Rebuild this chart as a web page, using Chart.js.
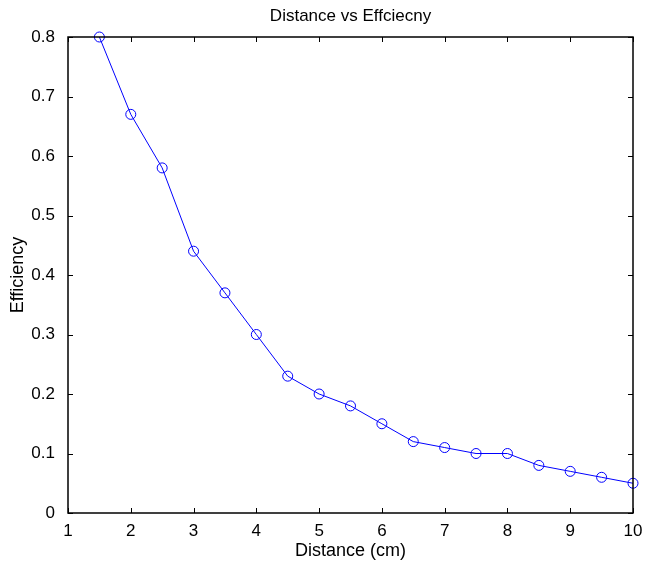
<!DOCTYPE html>
<html>
<head>
<meta charset="utf-8">
<script src="https://cdn.jsdelivr.net/npm/chart.js@4/dist/chart.umd.min.js"></script>
<style>
  html, body { margin: 0; padding: 0; background: #fff; }
  #wrap { width: 645px; height: 564px; }
</style>
</head>
<body>
<div id="wrap"><canvas id="c" width="645" height="564"></canvas></div>
<script>
// distance in cm
const distance = [1.5, 2, 2.5, 3, 3.5, 4, 4.5, 5, 5.5, 6, 6.5, 7, 7.5, 8, 8.5, 9, 9.5, 10];
// measured efficiency
const efficiency = [0.80, 0.67, 0.58, 0.44, 0.37, 0.30, 0.23, 0.20, 0.18, 0.15, 0.12, 0.11, 0.10, 0.10, 0.08, 0.07, 0.06, 0.05];
const xTicks = [1, 2, 3, 4, 5, 6, 7, 8, 9, 10];
const yTicks = [0, 0.1, 0.2, 0.3, 0.4, 0.5, 0.6, 0.7, 0.8];
const chartTitle = 'Distance vs Effciecny';

const FONT = 'Liberation Sans, Arial, sans-serif';

// matlab style box with inward ticks on all four sides, title centred over the axes
const boxTicks = {
  id: 'boxTicks',
  afterDraw(chart) {
    const { ctx, chartArea: a, scales } = chart;
    const len = 5;
    ctx.save();
    ctx.strokeStyle = '#000';
    ctx.lineWidth = 1;
    ctx.beginPath();
    xTicks.forEach(v => {
      const px = Math.round(scales.x.getPixelForValue(v)) + 0.5;
      ctx.moveTo(px, a.bottom); ctx.lineTo(px, a.bottom - len);
      ctx.moveTo(px, a.top); ctx.lineTo(px, a.top + len);
    });
    yTicks.forEach(v => {
      const py = Math.round(scales.y.getPixelForValue(v)) + 0.5;
      ctx.moveTo(a.left, py); ctx.lineTo(a.left + len, py);
      ctx.moveTo(a.right, py); ctx.lineTo(a.right - len, py);
    });
    ctx.stroke();
    ctx.lineWidth = 1.5;
    ctx.strokeRect(a.left, a.top, a.right - a.left, a.bottom - a.top);

    ctx.fillStyle = '#000';
    ctx.font = '17px ' + FONT;
    ctx.textAlign = 'center';
    ctx.textBaseline = 'middle';
    ctx.fillText(chartTitle, (a.left + a.right) / 2, 16);
    ctx.restore();
  }
};

new Chart(document.getElementById('c'), {
  type: 'line',
  data: {
    datasets: [{
      data: distance.map((d, i) => ({ x: d, y: efficiency[i] })),
      borderColor: '#0000ff',
      borderWidth: 1,
      backgroundColor: 'rgba(0,0,0,0)',
      pointRadius: 5,
      pointBorderWidth: 1,
      pointBorderColor: '#0000ff',
      pointBackgroundColor: 'rgba(0,0,0,0)',
      tension: 0,
      clip: false
    }]
  },
  options: {
    responsive: false,
    animation: false,
    layout: { padding: { left: 0, right: 12, top: 37, bottom: 0 } },
    plugins: {
      legend: { display: false },
      tooltip: { enabled: false },
      title: { display: false }
    },
    scales: {
      x: {
        type: 'linear',
        min: 1, max: 10,
        afterBuildTicks: s => { s.ticks = xTicks.map(v => ({ value: v })); },
        afterFit: s => { s.height = 51; },
        grid: { display: false },
        border: { display: false },
        ticks: { color: '#000', font: { family: FONT, size: 17 }, padding: 0, maxRotation: 0 },
        title: {
          display: true, text: 'Distance (cm)', color: '#000',
          font: { family: FONT, size: 18 }, padding: { top: 0, bottom: 2 }
        }
      },
      y: {
        type: 'linear',
        min: 0, max: 0.8,
        afterBuildTicks: s => { s.ticks = yTicks.map(v => ({ value: v })); },
        afterFit: s => { s.width = 68; },
        grid: { display: false },
        border: { display: false },
        ticks: { color: '#000', font: { family: FONT, size: 17 }, padding: 5 },
        title: {
          display: true, text: 'Efficiency', color: '#000',
          font: { family: FONT, size: 18 }, padding: { top: 7, bottom: 0 }
        }
      }
    }
  },
  plugins: [boxTicks]
});
</script>
</body>
</html>
